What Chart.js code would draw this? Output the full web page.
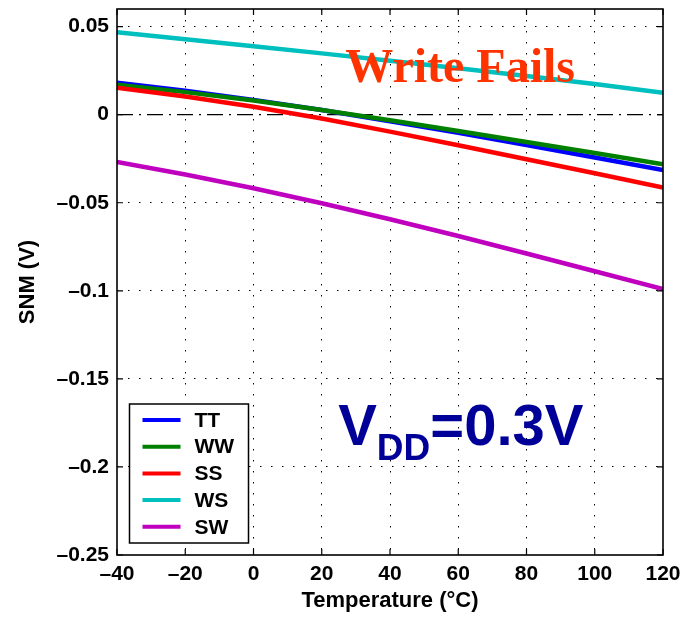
<!DOCTYPE html>
<html>
<head>
<meta charset="utf-8">
<script src="https://cdn.jsdelivr.net/npm/chart.js@4/dist/chart.umd.min.js"></script>
<style>
  body { margin: 0; background: #fff; }
  canvas { display: block; }
</style>
</head>
<body>
<canvas id="snmChart" width="682" height="618"></canvas>
<script>
// temperature sweep (degC)
const temps = [-40, -20, 0, 20, 40, 60, 80, 100, 120];

// SNM (V) per process corner
const snmTT = [0.0181, 0.0136, 0.0084, 0.0026, -0.0037, -0.0103, -0.0172, -0.0243, -0.0314];
const snmWW = [0.0170, 0.0128, 0.0080, 0.0026, -0.0032, -0.0093, -0.0155, -0.0218, -0.0282];
const snmSS = [0.0153, 0.0103, 0.0045, -0.0022, -0.0096, -0.0174, -0.0253, -0.0333, -0.0414];
const snmWS = [0.0468, 0.0428, 0.0388, 0.0348, 0.0306, 0.0263, 0.0220, 0.0174, 0.0125];
const snmSW = [-0.0268, -0.0340, -0.0418, -0.0503, -0.0594, -0.0689, -0.0788, -0.0889, -0.0990];

const cornerNames = ["TT", "WW", "SS", "WS", "SW"];
const cornerColors = ["#0000ff", "#008000", "#ff0000", "#00bfbf", "#bf00bf"];

const xTicks = [-40, -20, 0, 20, 40, 60, 80, 100, 120];
const yTicks = [-0.25, -0.2, -0.15, -0.1, -0.05, 0, 0.05];

// notes placed in data coordinates (x = degC, y = V at text baseline)
const noteWrite = { text: "Write Fails", x: 26.9, y: 0.0185 };
const noteVdd = { main: "V", sub: "DD", tail: "=0.3V", x: 24.8, y: -0.1873 };

const minus = s => String(s).replace("-", "\u2013");
const toPoints = arr => arr.map((v, i) => ({ x: temps[i], y: v }));

const allSeries = [snmTT, snmWW, snmSS, snmWS, snmSW];
const datasets = allSeries.map((s, i) => ({
  label: cornerNames[i],
  data: toPoints(s),
  borderColor: cornerColors[i],
  backgroundColor: cornerColors[i],
  borderWidth: 4.5,
  pointRadius: 0,
  tension: 0,
  order: 5 - i
}));
datasets.push({
  label: "zero",
  skipLegend: true,
  data: [{ x: temps[0], y: 0 }, { x: temps[temps.length - 1], y: 0 }],
  borderColor: "#000",
  borderWidth: 1.3,
  borderDash: [16, 6, 2, 6],
  pointRadius: 0,
  order: 10
});

const boxAndTicks = {
  id: "boxAndTicks",
  afterDatasetsDraw(chart) {
    const { ctx, chartArea: a, scales } = chart;
    ctx.save();
    ctx.strokeStyle = "#000";
    ctx.lineWidth = 1.2;
    ctx.beginPath();
    scales.x.ticks.forEach(t => {
      const px = scales.x.getPixelForValue(t.value);
      ctx.moveTo(px, a.bottom); ctx.lineTo(px, a.bottom - 6);
      ctx.moveTo(px, a.top); ctx.lineTo(px, a.top + 6);
    });
    scales.y.ticks.forEach(t => {
      const py = scales.y.getPixelForValue(t.value);
      ctx.moveTo(a.left, py); ctx.lineTo(a.left + 6, py);
      ctx.moveTo(a.right, py); ctx.lineTo(a.right - 6, py);
    });
    ctx.stroke();
    ctx.lineWidth = 1.6;
    ctx.strokeRect(a.left, a.top, a.right - a.left, a.bottom - a.top);

    // annotations
    const wx = scales.x.getPixelForValue(noteWrite.x);
    const wy = scales.y.getPixelForValue(noteWrite.y);
    ctx.fillStyle = "#ff3300";
    ctx.font = "bold 48px 'Liberation Serif', 'Times New Roman', serif";
    ctx.textBaseline = "alphabetic";
    ctx.textAlign = "left";
    ctx.fillText(noteWrite.text, wx, wy);

    const vx = scales.x.getPixelForValue(noteVdd.x);
    const vy = scales.y.getPixelForValue(noteVdd.y);
    ctx.fillStyle = "#000099";
    ctx.font = "bold 58px 'Liberation Sans', Arial, sans-serif";
    ctx.fillText(noteVdd.main, vx, vy);
    let cx = vx + ctx.measureText(noteVdd.main).width;
    ctx.font = "bold 37px 'Liberation Sans', Arial, sans-serif";
    ctx.fillText(noteVdd.sub, cx, vy + 15);
    cx += ctx.measureText(noteVdd.sub).width;
    ctx.font = "bold 58px 'Liberation Sans', Arial, sans-serif";
    ctx.fillText(noteVdd.tail, cx, vy);
    ctx.restore();
  }
};

const boxLegend = {
  id: "boxLegend",
  afterDraw(chart) {
    const { ctx, chartArea: a } = chart;
    const items = chart.data.datasets.filter(d => !d.skipLegend);
    const left = a.left + 12.5, top = a.bottom - 151;
    const w = 119, h = 139, row = 26.7;
    ctx.save();
    ctx.fillStyle = "#fff";
    ctx.fillRect(left, top, w, h);
    ctx.strokeStyle = "#000";
    ctx.lineWidth = 1.5;
    ctx.strokeRect(left, top, w, h);
    ctx.font = "bold 21px 'Liberation Sans', Arial, sans-serif";
    ctx.textBaseline = "middle";
    items.forEach((d, i) => {
      const y = top + 16 + i * row;
      ctx.strokeStyle = d.borderColor;
      ctx.lineWidth = 4;
      ctx.beginPath();
      ctx.moveTo(left + 13, y);
      ctx.lineTo(left + 51, y);
      ctx.stroke();
      ctx.fillStyle = "#000";
      ctx.fillText(d.label, left + 65, y + 1);
    });
    ctx.restore();
  }
};

const tickFont = { family: "'Liberation Sans', Arial, sans-serif", size: 21, weight: "bold" };
const dotGrid = { color: "#000", lineWidth: 1, drawTicks: false };

new Chart(document.getElementById("snmChart"), {
  type: "line",
  data: { datasets },
  options: {
    responsive: false,
    animation: false,
    layout: { padding: { top: 9, right: 19, left: 0, bottom: 0 } },
    plugins: { legend: { display: false }, tooltip: { enabled: false } },
    scales: {
      x: {
        type: "linear",
        min: -40,
        max: 120,
        afterBuildTicks: s => { s.ticks = xTicks.map(v => ({ value: v })); },
        afterFit: s => { s.height = 63; s.paddingLeft = 0; s.paddingRight = 0; },
        ticks: { color: "#000", font: tickFont, padding: 7, maxRotation: 0, callback: v => minus(v) },
        grid: { ...dotGrid, color: c => (c.tick && (c.tick.value === -40 || c.tick.value === 120)) ? "rgba(0,0,0,0)" : "#000" },
        border: { display: false, dash: [1.5, 9.5] },
        title: { display: true, text: "Temperature (\u00B0C)", color: "#000", font: { ...tickFont, size: 22 }, padding: { top: 2 } }
      },
      y: {
        type: "linear",
        min: -0.25,
        max: 0.06,
        afterBuildTicks: s => { s.ticks = yTicks.map(v => ({ value: v })); },
        afterFit: s => { s.width = 117; s.paddingTop = 0; s.paddingBottom = 0; },
        ticks: { color: "#000", font: tickFont, padding: 8, callback: v => minus(v) },
        grid: { ...dotGrid, color: c => (c.tick && (c.tick.value === 0 || c.tick.value === -0.25)) ? "rgba(0,0,0,0)" : "#000" },
        border: { display: false, dash: [1.5, 9.5] },
        title: { display: true, text: "SNM (V)", color: "#000", font: { ...tickFont, size: 22 }, padding: { top: 15 } }
      }
    }
  },
  plugins: [boxAndTicks, boxLegend]
});
</script>
</body>
</html>
